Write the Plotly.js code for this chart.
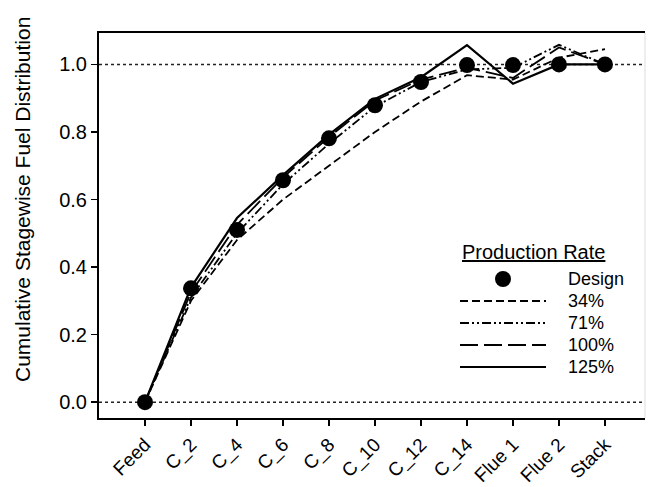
<!DOCTYPE html>
<html>
<head>
<meta charset="utf-8">
<script src="https://cdn.plot.ly/plotly-3.0.1.min.js"></script>
<style>html,body{margin:0;padding:0;background:#fff;}#chart{width:649px;height:487px;}</style>
</head>
<body>
<div id="chart"></div>
<script>
const categories = ['Feed','C_2','C_4','C_6','C_8','C_10','C_12','C_14','Flue 1','Flue 2','Stack'];
const design = [0, 0.337, 0.51, 0.657, 0.781, 0.879, 0.948, 0.998, 0.998, 1.0, 1.0];
const rate34 = [0, 0.30, 0.48, 0.60, 0.70, 0.80, 0.89, 0.968, 0.955, 1.02, 1.045];
const rate71 = [0, 0.31, 0.50, 0.645, 0.765, 0.875, 0.948, 0.985, 0.99, 1.058, 1.0];
const rate100 = [0, 0.325, 0.525, 0.665, 0.785, 0.893, 0.955, 0.99, 0.96, 1.05, 1.0];
const rate125 = [0, 0.34, 0.545, 0.672, 0.792, 0.898, 0.962, 1.057, 0.943, 1.0, 1.0];
const yTicks = [0, 0.2, 0.4, 0.6, 0.8, 1.0];
const yTickText = ['0.0','0.2','0.4','0.6','0.8','1.0'];
const legendLabels = ['Design','34%','71%','100%','125%'];

const W = 649, H = 487, L = 99, R = 4, T = 33, B = 69;
const pw = W - L - R, ph = H - T - B;
const px = x => (x - L) / pw;
const py = y => (H - B - y) / ph;
const FONT = 'Liberation Sans, Arial, sans-serif';

const dashes = {
  r34: '8px,4px',
  r71: '9px,3px,2px,3px,2px,3px',
  r100: '18px,6px',
  r125: 'solid'
};

function lineTrace(y, dash, width) {
  return {x: categories, y: y, type: 'scatter', mode: 'lines',
    line: {color: '#000', width: width, dash: dash}, showlegend: false, hoverinfo: 'skip'};
}
const traces = [
  lineTrace(rate34, dashes.r34, 1.8),
  lineTrace(rate71, dashes.r71, 1.8),
  lineTrace(rate100, dashes.r100, 1.8),
  lineTrace(rate125, dashes.r125, 2.2),
  {x: categories, y: design, type: 'scatter', mode: 'markers',
   marker: {color: '#000', size: 16}, showlegend: false, hoverinfo: 'skip'}
];

const shapes = [
  {type: 'line', xref: 'paper', yref: 'y', x0: 0, x1: 1, y0: 0, y1: 0, line: {color: '#222', width: 1.5, dash: 'dot'}, layer: 'below'},
  {type: 'line', xref: 'paper', yref: 'y', x0: 0, x1: 1, y0: 1, y1: 1, line: {color: '#222', width: 1.5, dash: 'dot'}, layer: 'below'},
  {type: 'line', xref: 'paper', yref: 'paper', x0: 1, x1: 1, y0: 0, y1: 1, line: {color: '#ddd', width: 1}}
];
const annotations = [
  {text: 'Cumulative Stagewise Fuel Distribution', xref: 'paper', yref: 'paper', x: px(22), y: py(200),
   xanchor: 'center', yanchor: 'middle',
   textangle: -90, showarrow: false, font: {family: FONT, size: 21, color: '#000'}},
  {text: '<u>Production Rate</u>', xref: 'paper', yref: 'paper', x: px(533), y: py(252),
   xanchor: 'center', yanchor: 'middle',
   showarrow: false, font: {family: FONT, size: 20, color: '#000'}}
];
const legY = [279, 301, 323, 345, 367];
const legDash = [null, dashes.r34, dashes.r71, dashes.r100, dashes.r125];
legendLabels.forEach((lab, i) => {
  annotations.push({text: lab, xref: 'paper', yref: 'paper', x: px(566), y: py(legY[i]),
    xanchor: 'left', yanchor: 'middle',
    showarrow: false, font: {family: FONT, size: 18, color: '#000'}});
  if (i === 0) {
    shapes.push({type: 'circle', xref: 'paper', yref: 'paper', x0: px(495), x1: px(511), y0: py(legY[i]+8), y1: py(legY[i]-8),
      fillcolor: '#000', line: {color: '#000', width: 0}});
  } else {
    shapes.push({type: 'line', xref: 'paper', yref: 'paper', x0: px(460), x1: px(546), y0: py(legY[i]), y1: py(legY[i]),
      line: {color: '#000', width: i === 4 ? 2.2 : 1.8, dash: legDash[i]}});
  }
});

const layout = {
  width: W, height: H, margin: {l: L, r: R, t: T, b: B},
  paper_bgcolor: '#fff', plot_bgcolor: '#fff', showlegend: false,
  font: {family: FONT, size: 18, color: '#000'},
  xaxis: {type: 'category', range: [-1, 10.87], showgrid: false, zeroline: false,
    showline: true, linecolor: '#000', linewidth: 2, mirror: true,
    ticks: 'outside', ticklen: 6, tickwidth: 1.5, tickcolor: '#000', tickangle: -45,
    tickfont: {family: FONT, size: 19, color: '#000'}},
  yaxis: {range: [-0.047, 1.093], tickvals: yTicks, ticktext: yTickText, showgrid: false, zeroline: false,
    showline: true, linecolor: '#000', linewidth: 2,
    ticks: 'outside', ticklen: 6, tickwidth: 1.5, tickcolor: '#000',
    tickfont: {family: FONT, size: 20, color: '#000'}},
  shapes: shapes, annotations: annotations
};
Plotly.newPlot('chart', traces, layout, {staticPlot: true, displayModeBar: false});
</script>
</body>
</html>
